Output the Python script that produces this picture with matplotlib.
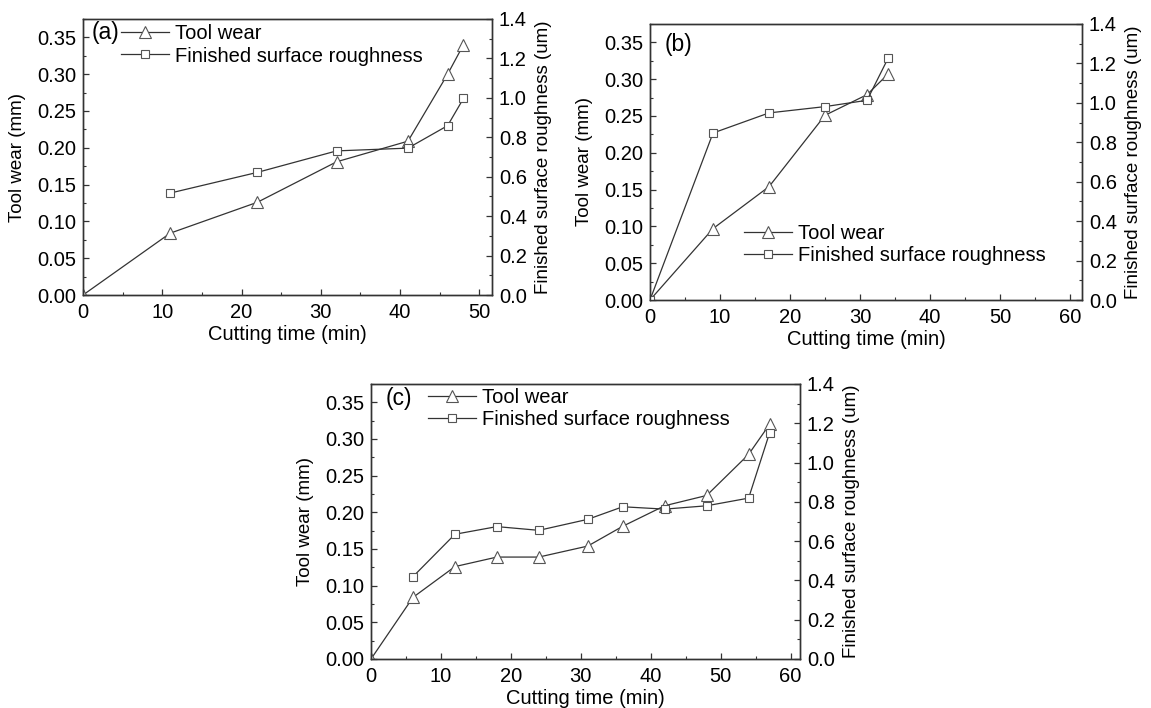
import matplotlib
matplotlib.use("Agg")
import matplotlib.pyplot as plt
from matplotlib.ticker import MultipleLocator, FormatStrFormatter

plt.rcParams['font.family'] = ['Liberation Sans', 'DejaVu Sans']

# ---------------- data ----------------
a_time_tw = [0, 11, 22, 32, 41, 46, 48]
a_tw = [0, 0.084, 0.126, 0.181, 0.209, 0.300, 0.340]
a_time_sr = [11, 22, 32, 41, 46, 48]
a_sr = [0.517, 0.622, 0.731, 0.745, 0.859, 0.997]

b_time_tw = [0, 9, 17, 25, 31, 34]
b_tw = [0, 0.097, 0.154, 0.251, 0.279, 0.307]
b_time_sr = [0, 9, 17, 25, 31, 34]
b_sr = [0, 0.847, 0.949, 0.981, 1.013, 1.226]

c_time_tw = [0, 6, 12, 18, 24, 31, 36, 42, 48, 54, 57]
c_tw = [0, 0.084, 0.126, 0.139, 0.139, 0.154, 0.181, 0.209, 0.223, 0.279, 0.320]
c_time_sr = [6, 12, 18, 24, 31, 36, 42, 48, 54, 57]
c_sr = [0.419, 0.635, 0.674, 0.655, 0.711, 0.775, 0.763, 0.780, 0.819, 1.151]

labels = ["Tool wear", "Finished surface roughness"]
x_label = "Cutting time (min)"
yl_label = "Tool wear (mm)"
yr_label = "Finished surface roughness (um)"

W, H = 1151, 708
fig = plt.figure(figsize=(W / 100, H / 100), dpi=100)

LINE = '#333333'
EDGE = '#555555'
FS = 14.5
FSV = 13.5

def px_rect(x0, y0, x1, y1):
    return [x0 / W, 1 - y1 / H, (x1 - x0) / W, (y1 - y0) / H]

def make_panel(rect, xmax, t_tw, tw, t_sr, sr, tag, tag_xy, leg_x, leg_y):
    ax = fig.add_axes(rect)
    ax2 = ax.twinx()
    l1, = ax.plot(t_tw, tw, color=LINE, lw=0.9, marker='^', ms=8,
                  mfc='white', mec=EDGE, mew=0.8)
    l2, = ax2.plot(t_sr, sr, color=LINE, lw=0.9, marker='s', ms=5.8,
                   mfc='white', mec=EDGE, mew=0.8)
    ax.set_xlim(0, xmax)
    ax.set_ylim(0, 0.375)
    ax2.set_ylim(0, 1.4)
    ax.xaxis.set_major_locator(MultipleLocator(10))
    ax.xaxis.set_minor_locator(MultipleLocator(5))
    ax.yaxis.set_major_locator(MultipleLocator(0.05))
    ax.yaxis.set_minor_locator(MultipleLocator(0.025))
    ax.yaxis.set_major_formatter(FormatStrFormatter('%.2f'))
    ax2.yaxis.set_major_locator(MultipleLocator(0.2))
    ax2.yaxis.set_minor_locator(MultipleLocator(0.1))
    ax2.yaxis.set_major_formatter(FormatStrFormatter('%.1f'))
    for a in (ax, ax2):
        for s in a.spines.values():
            s.set_linewidth(1.0)
            s.set_color('#333333')
        a.tick_params(which='major', direction='in', length=4, width=0.9,
                      colors='#333333', labelsize=FS, labelcolor='black', pad=5)
        a.tick_params(which='minor', direction='in', length=2.5, width=0.8,
                      colors='#333333')
    ax.tick_params(axis='x', which='major', pad=6)
    ax.tick_params(axis='both', which='both', top=False, right=False)
    ax2.tick_params(axis='y', which='both', left=False, right=True)
    ax.set_xlabel(x_label, fontsize=FS, labelpad=2)
    ax.set_ylabel(yl_label, fontsize=FSV, labelpad=8)
    ax2.set_ylabel(yr_label, fontsize=FSV, labelpad=5.5)
    fig.text(tag_xy[0] / W, 1 - tag_xy[1] / H, tag, fontsize=16.5,
             ha='left', va='center')
    ax2.legend([l1, l2], labels, loc='center left',
               bbox_to_anchor=(leg_x / W, 1 - leg_y / H),
               bbox_transform=fig.transFigure, frameon=False,
               fontsize=FS, borderpad=0, borderaxespad=0,
               handlelength=2.4, handletextpad=0.3, labelspacing=0.15,
               numpoints=1)
    return ax, ax2

make_panel(px_rect(83, 19, 492, 295), 51.6, a_time_tw, a_tw, a_time_sr, a_sr,
           '(a)', (92, 33), 121, 45)
make_panel(px_rect(650, 24, 1082, 300), 61.7, b_time_tw, b_tw, b_time_sr, b_sr,
           '(b)', (665, 44), 744, 244.5)
make_panel(px_rect(371, 384, 800, 659), 61.35, c_time_tw, c_tw, c_time_sr, c_sr,
           '(c)', (386, 398), 428, 408.5)

fig.savefig('out.png', dpi=100)
